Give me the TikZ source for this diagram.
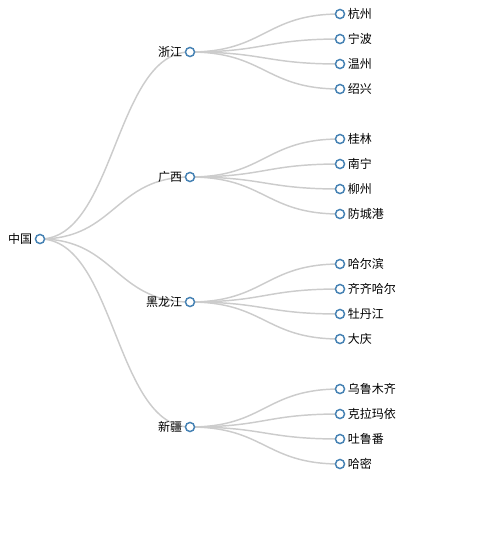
\documentclass[tikz,border=0pt]{standalone}
\usepackage{fontspec}
\setmainfont{Noto Sans CJK SC}
\usetikzlibrary{backgrounds}
\definecolor{steelblue}{HTML}{4682B4}

\begin{document}
\begin{tikzpicture}[x=0.75pt, y=-0.75pt,
        dot/.style={circle, draw=steelblue, fill=white, line width=1.1pt, inner sep=0pt, minimum size=6.8pt},
        inner/.style={dot, label={[font=\fontsize{9}{10}\selectfont, label distance=-1.5pt]left:#1}},
        leaf/.style={dot, label={[font=\fontsize{9}{10}\selectfont, label distance=-1.5pt]right:#1}},
        link/.style={draw=black!20, line width=1.1pt}
    ]
        \useasboundingbox (0,0) rectangle (485,544);
        \node[inner=中国] (china) at (40,239) {};

        \node[inner=浙江] (zj) at (190,52) {};
        \node[inner=广西] (gx) at (190,177) {};
        \node[inner=黑龙江] (hlj) at (190,302) {};
        \node[inner=新疆] (xj) at (190,427) {};

        \node[leaf=杭州] (hz) at (340,14) {};
        \node[leaf=宁波] (nb) at (340,39) {};
        \node[leaf=温州] (wz) at (340,64) {};
        \node[leaf=绍兴] (sx) at (340,89) {};

        \node[leaf=桂林] (gl) at (340,139) {};
        \node[leaf=南宁] (nn) at (340,164) {};
        \node[leaf=柳州] (lz) at (340,189) {};
        \node[leaf=防城港] (fcg) at (340,214) {};

        \node[leaf=哈尔滨] (hrb) at (340,264) {};
        \node[leaf=齐齐哈尔] (qqhe) at (340,289) {};
        \node[leaf=牡丹江] (mdj) at (340,314) {};
        \node[leaf=大庆] (dq) at (340,339) {};

        \node[leaf=乌鲁木齐] (wlmq) at (340,389) {};
        \node[leaf=克拉玛依] (klmy) at (340,414) {};
        \node[leaf=吐鲁番] (tlf) at (340,439) {};
        \node[leaf=哈密] (hm) at (340,464) {};

        \begin{scope}[on background layer]
            \foreach \a/\b in {china/zj, china/gx, china/hlj, china/xj,
                zj/hz, zj/nb, zj/wz, zj/sx, gx/gl, gx/nn, gx/lz, gx/fcg,
                hlj/hrb, hlj/qqhe, hlj/mdj, hlj/dq, xj/wlmq, xj/klmy, xj/tlf, xj/hm}
                \draw[link] (\a.center) .. controls +(75,0) and +(-75,0) .. (\b.center);
        \end{scope}
    \end{tikzpicture}
\end{document}
